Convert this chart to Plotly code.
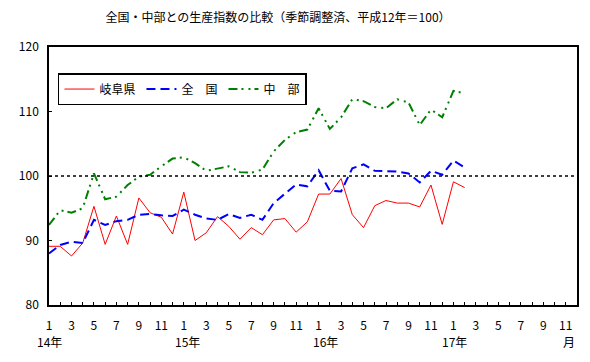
import plotly.graph_objects as go

months = list(range(38))  # 0 = 14年1月 ... 37 = 17年2月
gifu = [89.1, 89.1, 87.6, 89.6, 95.3, 89.4, 93.8, 89.4, 96.6, 94.3,
        93.6, 91.0, 97.5, 90.0, 91.2, 93.7, 92.2, 90.2, 92.0, 90.9,
        93.2, 93.4, 91.3, 92.9, 97.2, 97.2, 99.6, 94.0, 92.0, 95.4,
        96.2, 95.8, 95.8, 95.2, 98.6, 92.5, 99.1, 98.2]
zenkoku = [88.0, 89.3, 89.8, 89.6, 93.2, 92.4, 93.0, 93.2, 94.0, 94.1,
           93.9, 93.8, 94.8, 94.0, 93.4, 93.2, 94.1, 93.5, 94.0, 93.2,
           95.8, 97.3, 98.7, 98.4, 100.9, 97.7, 97.6, 101.2, 101.8, 100.8,
           100.8, 100.7, 100.4, 99.0, 100.8, 100.2, 102.4, 101.3]
chubu = [92.4, 94.7, 94.3, 95.0, 100.4, 96.4, 96.8, 98.6, 99.9, 100.2,
         101.5, 102.7, 102.9, 102.0, 100.8, 101.1, 101.5, 100.6, 100.5, 101.0,
         103.8, 105.6, 106.8, 107.2, 110.5, 107.3, 109.1, 111.9, 111.6, 110.7,
         110.5, 111.9, 111.4, 107.9, 110.3, 109.1, 113.2, 112.8]

tick_pos = list(range(48))
tick_text = [str(i % 12 + 1) if i % 2 == 0 else "" for i in tick_pos]
year_labels = ["14年", "15年", "16年", "17年"]
year_pos = [0, 12.3, 24.6, 36.1]

FONT = "Noto Sans CJK JP"
OFF = 8  # page body margin offset

fig = go.Figure()
fig.add_trace(go.Scatter(x=months, y=gifu, name="岐阜県", mode="lines",
                         line=dict(color="#ff0000", width=1)))
fig.add_trace(go.Scatter(x=months, y=zenkoku, name="全　国", mode="lines",
                         line=dict(color="#0000ff", width=2, dash="9px,5px")))
fig.add_trace(go.Scatter(x=months, y=chubu, name="中　部", mode="lines",
                         line=dict(color="#008000", width=2,
                                   dash="9px,4px,2px,5px,2px,4px")))

fig.add_shape(type="line", xref="paper", yref="y", x0=0, x1=1, y0=100, y1=100,
              line=dict(color="black", width=1.5, dash="3px,3px"))

for t, p in zip(year_labels, year_pos):
    fig.add_annotation(x=p, y=-0.143, xref="x", yref="paper", text=t,
                       showarrow=False, font=dict(size=12, color="black", family=FONT),
                       xanchor="center", yanchor="middle")
fig.add_annotation(x=46.3, y=-0.143, xref="x", yref="paper", text="月",
                   showarrow=False, font=dict(size=12, color="black", family=FONT),
                   xanchor="center", yanchor="middle")

fig.update_layout(
    width=590, height=362,
    margin=dict(l=49 - OFF, r=13 + OFF, t=47 - OFF, b=57 + OFF),
    paper_bgcolor="white", plot_bgcolor="white",
    font=dict(family=FONT, size=12, color="black"),
    title=dict(text="全国・中部との生産指数の比較（季節調整済、平成12年＝100）",
               x=(278 - OFF) / 590, xref="container", xanchor="center",
               y=1 - (18 - OFF) / 362, yref="container", yanchor="middle",
               font=dict(size=12, family=FONT, color="black")),
    legend=dict(orientation="h", x=0.017, y=0.899, xanchor="left", yanchor="top",
                bordercolor="black", borderwidth=1.5, bgcolor="white",
                font=dict(size=12, family=FONT, color="black"),
                itemwidth=30, entrywidth=37, entrywidthmode="pixels",
                tracegroupgap=0),
    showlegend=True,
)
fig.update_xaxes(range=[0, 47], tickvals=tick_pos, ticktext=tick_text,
                 ticks="inside", ticklen=3, tickcolor="black",
                 showline=True, linecolor="black", linewidth=1.5, mirror=True,
                 showgrid=False, zeroline=False, ticklabelstandoff=9,
                 tickfont=dict(size=12, family=FONT, color="black"))
fig.update_yaxes(range=[80, 120], tickvals=[80, 90, 100, 110, 120],
                 ticks="inside", ticklen=3, tickcolor="black",
                 showline=True, linecolor="black", linewidth=1.5, mirror=True,
                 showgrid=False, zeroline=False, ticklabelstandoff=6,
                 tickfont=dict(size=12, family=FONT, color="black"))

fig.write_html("out.html")
